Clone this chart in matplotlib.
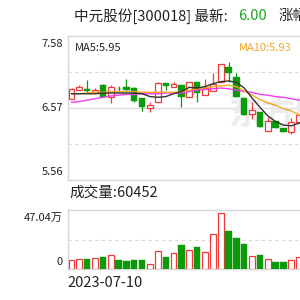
import matplotlib
matplotlib.use("Agg")
import matplotlib.pyplot as plt

plt.rcParams['font.family'] = ['Noto Sans CJK SC', 'DejaVu Sans']

# daily candles (open, high, low, close)
opens  = [6.70, 6.82, 6.83, 6.80, 6.89, 6.72, 6.84, 6.87, 6.85, 6.71,
          6.57, 6.65, 6.92, 6.87, 6.89, 6.72, 6.93, 6.75, 6.81, 6.93,
          7.15, 7.01, 6.71, 6.48, 6.51, 6.25, 6.39, 6.29, 6.23, 6.38]
highs  = [6.85, 6.89, 6.96, 6.85, 6.90, 6.89, 6.88, 6.97, 6.86, 6.71,
          6.66, 6.93, 6.92, 6.94, 6.89, 6.93, 6.93, 6.97, 7.06, 7.19,
          7.21, 7.06, 6.71, 6.66, 6.51, 6.45, 6.39, 6.29, 6.43, 6.47]
lows   = [6.69, 6.82, 6.80, 6.80, 6.73, 6.64, 6.80, 6.82, 6.66, 6.53,
          6.52, 6.65, 6.82, 6.87, 6.59, 6.72, 6.65, 6.75, 6.81, 6.93,
          6.94, 6.73, 6.47, 6.42, 6.31, 6.25, 6.29, 6.23, 6.20, 6.36]
closes = [6.83, 6.86, 6.81, 6.82, 6.73, 6.86, 6.83, 6.82, 6.67, 6.59,
          6.61, 6.92, 6.88, 6.90, 6.73, 6.93, 6.78, 6.85, 6.90, 7.19,
          7.06, 6.73, 6.47, 6.54, 6.31, 6.39, 6.29, 6.23, 6.38, 6.47]

ma5  = [6.77, 6.77, 6.77, 6.77, 6.78, 6.78, 6.78, 6.78, 6.78, 6.77,
        6.73, 6.72, 6.73, 6.77, 6.80, 6.86, 6.85, 6.87, 6.91, 6.94,
        6.95, 6.93, 6.85, 6.71, 6.58, 6.46, 6.38, 6.33, 6.32, 6.36]
ma10 = [6.77, 6.77, 6.78, 6.79, 6.79, 6.80, 6.80, 6.80, 6.80, 6.79,
        6.79, 6.79, 6.79, 6.79, 6.80, 6.82, 6.84, 6.85, 6.87, 6.88,
        6.89, 6.87, 6.81, 6.75, 6.69, 6.64, 6.61, 6.56, 6.53, 6.47]
ma20 = [6.65, 6.66, 6.68, 6.70, 6.72, 6.74, 6.75, 6.76, 6.76, 6.77,
        6.77, 6.77, 6.78, 6.78, 6.78, 6.80, 6.82, 6.83, 6.84, 6.85,
        6.84, 6.82, 6.80, 6.79, 6.76, 6.75, 6.73, 6.72, 6.70, 6.68]

# volume in 万 shares
volume = [7.2, 7.7, 8.0, 8.5, 9.8, 10.9, 7.2, 6.6, 7.2, 7.2,
          4.0, 14.6, 9.8, 12.5, 19.1, 15.1, 17.3, 13.3, 27.9, 44.4,
          30.5, 24.5, 20.2, 10.6, 11.2, 7.7, 5.8, 5.3, 7.2, 9.3]

price_ticks = [7.58, 6.57, 5.56]
vol_max = 47.04

RED = '#f23a3a'
GREEN = '#0a9a0a'
GRID = '#d9d9d9'
FRAME = '#d6d6de'
TXT = '#222222'

nslots = 40
slot = 7.85  # px per day


def fy(px):
    return 1 - px / 300.0


fig = plt.figure(figsize=(3, 3), dpi=100)

# ---- price panel
ax = fig.add_axes([67.6 / 300, fy(180), nslots * slot / 300, 144 / 300])
ax.set_xlim(-0.5, nslots - 0.5)
ax.set_ylim(price_ticks[2], price_ticks[0])

top, mid, bot = price_ticks
ax.axhline((top + mid) / 2, color=GRID, lw=0.8, ls=(0, (3, 3)), zorder=0)
ax.axhline((mid + bot) / 2, color=GRID, lw=0.8, ls=(0, (3, 3)), zorder=0)
ax.axhline(mid, color='#dcdcdc', lw=1.0, zorder=0)

# faint watermark
ax.text(0.51, 0.45, '东方财富', transform=ax.transAxes, fontsize=24,
        fontweight='bold', color='#ececec', ha='left', va='center', zorder=0)

for i in range(len(opens)):
    o, h, l, c = opens[i], highs[i], lows[i], closes[i]
    lo_b, hi_b = min(o, c), max(o, c)
    if c >= o:
        col = RED
        ax.vlines(i, l, h, color=col, lw=0.9, zorder=2)
        ax.bar(i, max(hi_b - lo_b, 0.01), bottom=lo_b, width=0.74,
               facecolor='white', edgecolor=col, lw=0.9, zorder=3)
    else:
        col = GREEN
        ax.vlines(i, l, h, color=col, lw=0.9, zorder=2)
        ax.bar(i, max(hi_b - lo_b, 0.01), bottom=lo_b, width=0.8,
               facecolor=col, edgecolor=col, lw=0.3, zorder=3)

x = list(range(len(ma5)))
ax.plot(x, ma20, color='#f03cf0', lw=1.0, zorder=4)
ax.plot(x, ma10, color='#f5a623', lw=1.0, zorder=4)
ax.plot(x, ma5, color='#333333', lw=1.0, zorder=4)

ax.set_xticks([])
ax.set_yticks([])
for s in ['left', 'top', 'bottom']:
    ax.spines[s].set_color(FRAME)
    ax.spines[s].set_linewidth(1.0)
ax.spines['right'].set_visible(False)

# y labels
fig.text(63 / 300, fy(44), '7.58', ha='right', va='center', fontsize=8, color=TXT)
fig.text(63 / 300, fy(108), '6.57', ha='right', va='center', fontsize=8, color=TXT)
fig.text(63 / 300, fy(172), '5.56', ha='right', va='center', fontsize=8, color=TXT)

fig.text(75 / 300, fy(48), 'MA5:5.95', ha='left', va='center', fontsize=8, color=TXT)
fig.text(292 / 300, fy(48), 'MA10:5.93', ha='right', va='center', fontsize=8, color='#f5a623')

# ---- header
fig.text(74 / 300, fy(16), '中元股份[300018] 最新:', ha='left', va='center', fontsize=10.5, color=TXT)
fig.text(238 / 300, fy(16), '6.00', ha='left', va='center', fontsize=10.5, color='#1aa31a')
fig.text(279 / 300, fy(16), '涨幅', ha='left', va='center', fontsize=10.5, color=TXT)

fig.text(69 / 300, fy(193), '成交量:60452', ha='left', va='center', fontsize=10.5, color=TXT)

# ---- volume panel
av = fig.add_axes([67.6 / 300, fy(269), nslots * slot / 300, 59 / 300])
av.set_xlim(-0.5, nslots - 0.5)
av.set_ylim(0, vol_max)
av.axhline(vol_max / 2, color=GRID, lw=0.8, ls=(0, (3, 3)), zorder=0)
for i, v in enumerate(volume):
    if closes[i] >= opens[i]:
        av.bar(i, v, width=0.74, facecolor='white', edgecolor=RED, lw=0.9, zorder=3)
    else:
        av.bar(i, v, width=0.8, facecolor=GREEN, edgecolor=GREEN, lw=0.3, zorder=3)
av.set_xticks([])
av.set_yticks([])
for s in ['left', 'top', 'bottom']:
    av.spines[s].set_color(FRAME)
    av.spines[s].set_linewidth(1.0)
av.spines['right'].set_visible(False)

fig.text(63 / 300, fy(218), '47.04万', ha='right', va='center', fontsize=8, color=TXT)
fig.text(63 / 300, fy(262), '0', ha='right', va='center', fontsize=8, color=TXT)

fig.text(67 / 300, fy(283), '2023-07-10', ha='left', va='center', fontsize=10.5, color=TXT)

fig.savefig('out.png', dpi=100, facecolor='white')
